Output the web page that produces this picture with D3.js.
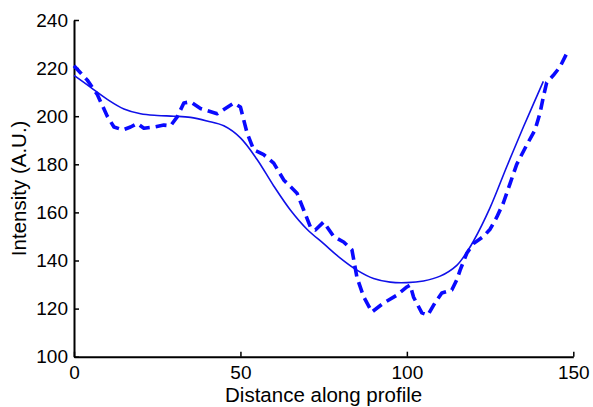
<!DOCTYPE html>
<html>
<head>
<meta charset="utf-8">
<script src="https://cdn.jsdelivr.net/npm/d3@7"></script>
<style>
html,body{margin:0;padding:0;background:#fff;}
svg text{font-family:"Liberation Sans",Arial,sans-serif;fill:#000;}
</style>
</head>
<body>
<svg id="chart" width="593" height="407"></svg>
<script>
// ---- data ----
const xTicks = [0, 50, 100, 150];
const yTicks = [100, 120, 140, 160, 180, 200, 220, 240];
const xLabel = "Distance along profile";
const yLabel = "Intensity (A.U.)";

// measured profile (dashed)
const measuredX = [0,2,4,7,10,12,14.7,17,19,21,24,27,29,31,33,35,38,43,48,50,52,54,57,60,63,67,69,71,72.5,75,78,81,83.5,85,87,89.5,93,97,100,101,102,104.5,106.3,108.4,110.5,113.5,115,116,118,120,123,125,127,129,131,133,136,138.5,140,141,142,144,146,148];
const measuredY = [221,218,215,209,200,195.5,194.3,195.5,197,195,195.5,196.3,196,199.7,205.5,206,203.2,201,205.5,203.8,193,186,184,180.5,173.5,168,161,154,152.7,156,150,147.7,144.4,133,125,118.6,122.3,125.6,129,129.8,124.8,118.2,117.3,122.3,126.5,127.7,132,136,143,147,150,153,158,164,172,180,188,194.3,201.3,208,214,217,220.5,226];

// smooth fit (solid)
const fitX = [0,5,10,15,20,25,30,35,40,45,50,55,60,65,70,75,80,85,90,95,100,105,110,115,118,120,125,130,135,138,141];
const fitY = [217,212,207,203,201,200.3,200,199.5,198,196,191,182,171,161,153,147,141,136,132.5,131,130.8,131.5,133.5,138,143.5,148,162,179,195.5,205,214.5];

// ---- chart ----
const svg = d3.select("#chart");
const x = d3.scaleLinear().domain([0, 150]).range([74, 573.3]);
const y = d3.scaleLinear().domain([100, 240]).range([356.7, 20]);

const xAxis = d3.axisBottom(x).tickValues(xTicks).tickSizeInner(-5).tickSizeOuter(0).tickPadding(9);
const yAxis = d3.axisLeft(y).tickValues(yTicks).tickSizeInner(-5).tickSizeOuter(0).tickPadding(6);

const gx = svg.append("g").attr("transform", `translate(0,${y(100)})`).call(xAxis);
const gy = svg.append("g").attr("transform", `translate(${x(0)},0)`).call(yAxis);
[gx, gy].forEach(g => {
  g.selectAll("path.domain").attr("stroke", "#000").attr("stroke-width", 2);
  g.selectAll(".tick line").attr("stroke", "#000").attr("stroke-width", 1.5);
  g.selectAll(".tick text").attr("font-size", 19).attr("font-family", "Liberation Sans, Arial, sans-serif").attr("fill", "#000");
});

const fitData = fitX.map((d, i) => [d, fitY[i]]);
const measData = measuredX.map((d, i) => [d, measuredY[i]]);

svg.append("path")
  .datum(fitData)
  .attr("fill", "none")
  .attr("stroke", "#1010e8")
  .attr("stroke-width", 1.6)
  .attr("d", d3.line().x(d => x(d[0])).y(d => y(d[1])).curve(d3.curveCatmullRom));

svg.append("path")
  .datum(measData)
  .attr("fill", "none")
  .attr("stroke", "#0a0aff")
  .attr("stroke-width", 3.6)
  .attr("stroke-dasharray", "11,6")
  .attr("stroke-linejoin", "round")
  .attr("d", d3.line().x(d => x(d[0])).y(d => y(d[1])));

svg.append("text")
  .attr("x", (x(0) + x(150)) / 2)
  .attr("y", 402)
  .attr("text-anchor", "middle")
  .attr("font-size", 20.5)
  .text(xLabel);

svg.append("text")
  .attr("transform", `translate(26,${(y(100) + y(240)) / 2}) rotate(-90)`)
  .attr("text-anchor", "middle")
  .attr("font-size", 20.5)
  .text(yLabel);
</script>
</body>
</html>
